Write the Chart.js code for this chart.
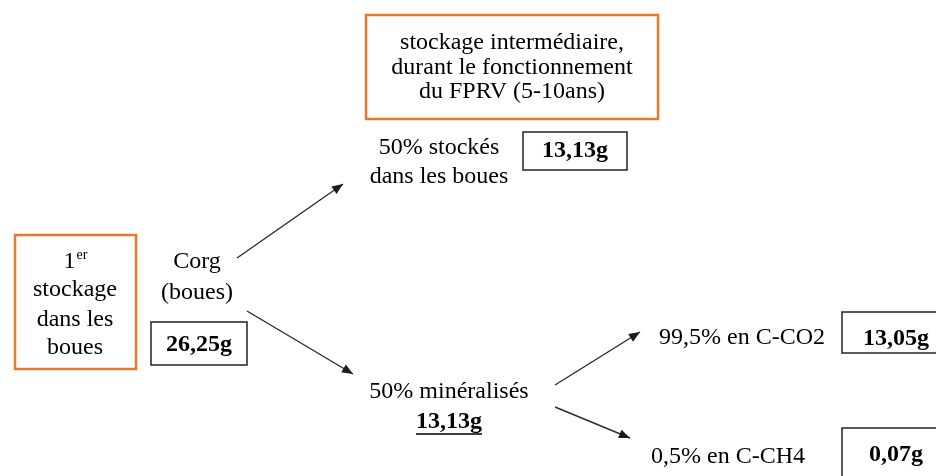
<!DOCTYPE html>
<html>
<head>
<meta charset="utf-8">
<script src="https://cdn.jsdelivr.net/npm/chart.js@4.4.0/dist/chart.umd.min.js"></script>
<style>
  html, body { margin: 0; padding: 0; background: #fff; }
  #wrap { width: 936px; height: 476px; position: relative; }
</style>
</head>
<body>
<div id="wrap"><canvas id="flow"></canvas></div>
<script>
// node texts
const stageLabels = [
  ['1|er', 'stockage', 'dans les', 'boues'],
  ['stockage intermédiaire,', 'durant le fonctionnement', 'du FPRV (5-10ans)']
];
const flowLabels = [
  ['Corg', '(boues)'],
  ['50% stockés', 'dans les boues'],
  ['50% minéralisés'],
  ['99,5% en C-CO2'],
  ['0,5% en C-CH4']
];
// carbon masses
const amounts = ['26,25g', '13,13g', '13,13g', '13,05g', '0,07g'];

// layout (page pixels, y downwards)
const stageBoxes = [[15, 235, 136, 369], [366, 15, 658, 119]];
const stageText = [[75, [262, 290, 320, 348]], [512, [43, 68, 92]]];
const flowText = [[197, [262, 293]], [439, [148, 177]], [449, [392]], [742, [338]], [728, [457]]];
const amountBoxes = [[151, 322, 247, 365], [523, 132, 627, 170], null, [842, 312, 945, 353], [842, 428, 945, 490]];
const amountText = [[199, 345], [575, 151], [449, 422], [896, 339], [896, 455]];
const arrows = [
  [[237, 258], [343, 184]],
  [[247, 311], [353, 374]],
  [[555, 385], [640, 332]],
  [[555, 407], [630, 438]]
];

const SERIF = '"Liberation Serif", "DejaVu Serif", serif';
const ORANGE = '#e8782a';

const datasets = arrows.map(a => ({
  data: a.map(p => ({ x: p[0], y: p[1] })),
  showLine: true,
  borderColor: '#2b2b2b',
  borderWidth: 1.4,
  pointRadius: 0,
  fill: false
}));

const diagramPlugin = {
  id: 'diagram',
  afterDatasetsDraw(chart) {
    const ctx = chart.ctx;
    const xs = chart.scales.x, ys = chart.scales.y;
    const px = v => xs.getPixelForValue(v);
    const py = v => ys.getPixelForValue(v);
    ctx.save();

    // arrow heads
    chart.data.datasets.forEach(ds => {
      const a = ds.data[0], b = ds.data[1];
      const x1 = px(a.x), y1 = py(a.y), x2 = px(b.x), y2 = py(b.y);
      const ang = Math.atan2(y2 - y1, x2 - x1);
      ctx.fillStyle = '#1a1a1a';
      ctx.beginPath();
      ctx.moveTo(x2, y2);
      ctx.lineTo(x2 - 11 * Math.cos(ang) + 4.5 * Math.sin(ang), y2 - 11 * Math.sin(ang) - 4.5 * Math.cos(ang));
      ctx.lineTo(x2 - 11 * Math.cos(ang) - 4.5 * Math.sin(ang), y2 - 11 * Math.sin(ang) + 4.5 * Math.cos(ang));
      ctx.closePath();
      ctx.fill();
    });

    const rect = (r, color, w) => {
      ctx.strokeStyle = color;
      ctx.lineWidth = w;
      ctx.strokeRect(px(r[0]), py(r[1]), px(r[2]) - px(r[0]), py(r[3]) - py(r[1]));
    };

    ctx.textBaseline = 'middle';
    ctx.fillStyle = '#000';

    // orange stage boxes
    stageBoxes.forEach(r => rect(r, ORANGE, 2.5));
    stageLabels.forEach((lines, i) => {
      const cx = px(stageText[i][0]);
      lines.forEach((t, j) => {
        const y = py(stageText[i][1][j]);
        if (t.includes('|')) {
          const [base, sup] = t.split('|');
          ctx.font = '24px ' + SERIF;
          const wb = ctx.measureText(base).width;
          ctx.font = '14px ' + SERIF;
          const ws = ctx.measureText(sup).width;
          const x0 = cx - (wb + ws) / 2;
          ctx.textAlign = 'left';
          ctx.font = '24px ' + SERIF;
          ctx.fillText(base, x0, y);
          ctx.font = '14px ' + SERIF;
          ctx.fillText(sup, x0 + wb + 1, y - 7);
        } else {
          ctx.textAlign = 'center';
          ctx.font = '24px ' + SERIF;
          ctx.fillText(t, cx, y);
        }
      });
    });

    // flow labels
    ctx.textAlign = 'center';
    ctx.font = '24px ' + SERIF;
    flowLabels.forEach((lines, i) => {
      lines.forEach((t, j) => ctx.fillText(t, px(flowText[i][0]), py(flowText[i][1][j])));
    });

    // amounts
    amounts.forEach((t, i) => {
      if (amountBoxes[i]) rect(amountBoxes[i], '#222', 1.5);
      ctx.font = 'bold 24px ' + SERIF;
      const x = px(amountText[i][0]), y = py(amountText[i][1]);
      ctx.fillText(t, x, y);
      if (!amountBoxes[i]) {
        const w = ctx.measureText(t).width;
        ctx.strokeStyle = '#000';
        ctx.lineWidth = 1.5;
        ctx.beginPath();
        ctx.moveTo(x - w / 2, y + 12);
        ctx.lineTo(x + w / 2, y + 12);
        ctx.stroke();
      }
    });
    ctx.restore();
  }
};

new Chart(document.getElementById('flow'), {
  type: 'scatter',
  data: { datasets },
  options: {
    responsive: true,
    maintainAspectRatio: false,
    animation: false,
    layout: { padding: 0 },
    plugins: { legend: { display: false }, tooltip: { enabled: false } },
    scales: {
      x: { type: 'linear', min: 0, max: 936, display: false },
      y: { type: 'linear', min: 0, max: 476, reverse: true, display: false }
    }
  },
  plugins: [diagramPlugin]
});
</script>
</body>
</html>
